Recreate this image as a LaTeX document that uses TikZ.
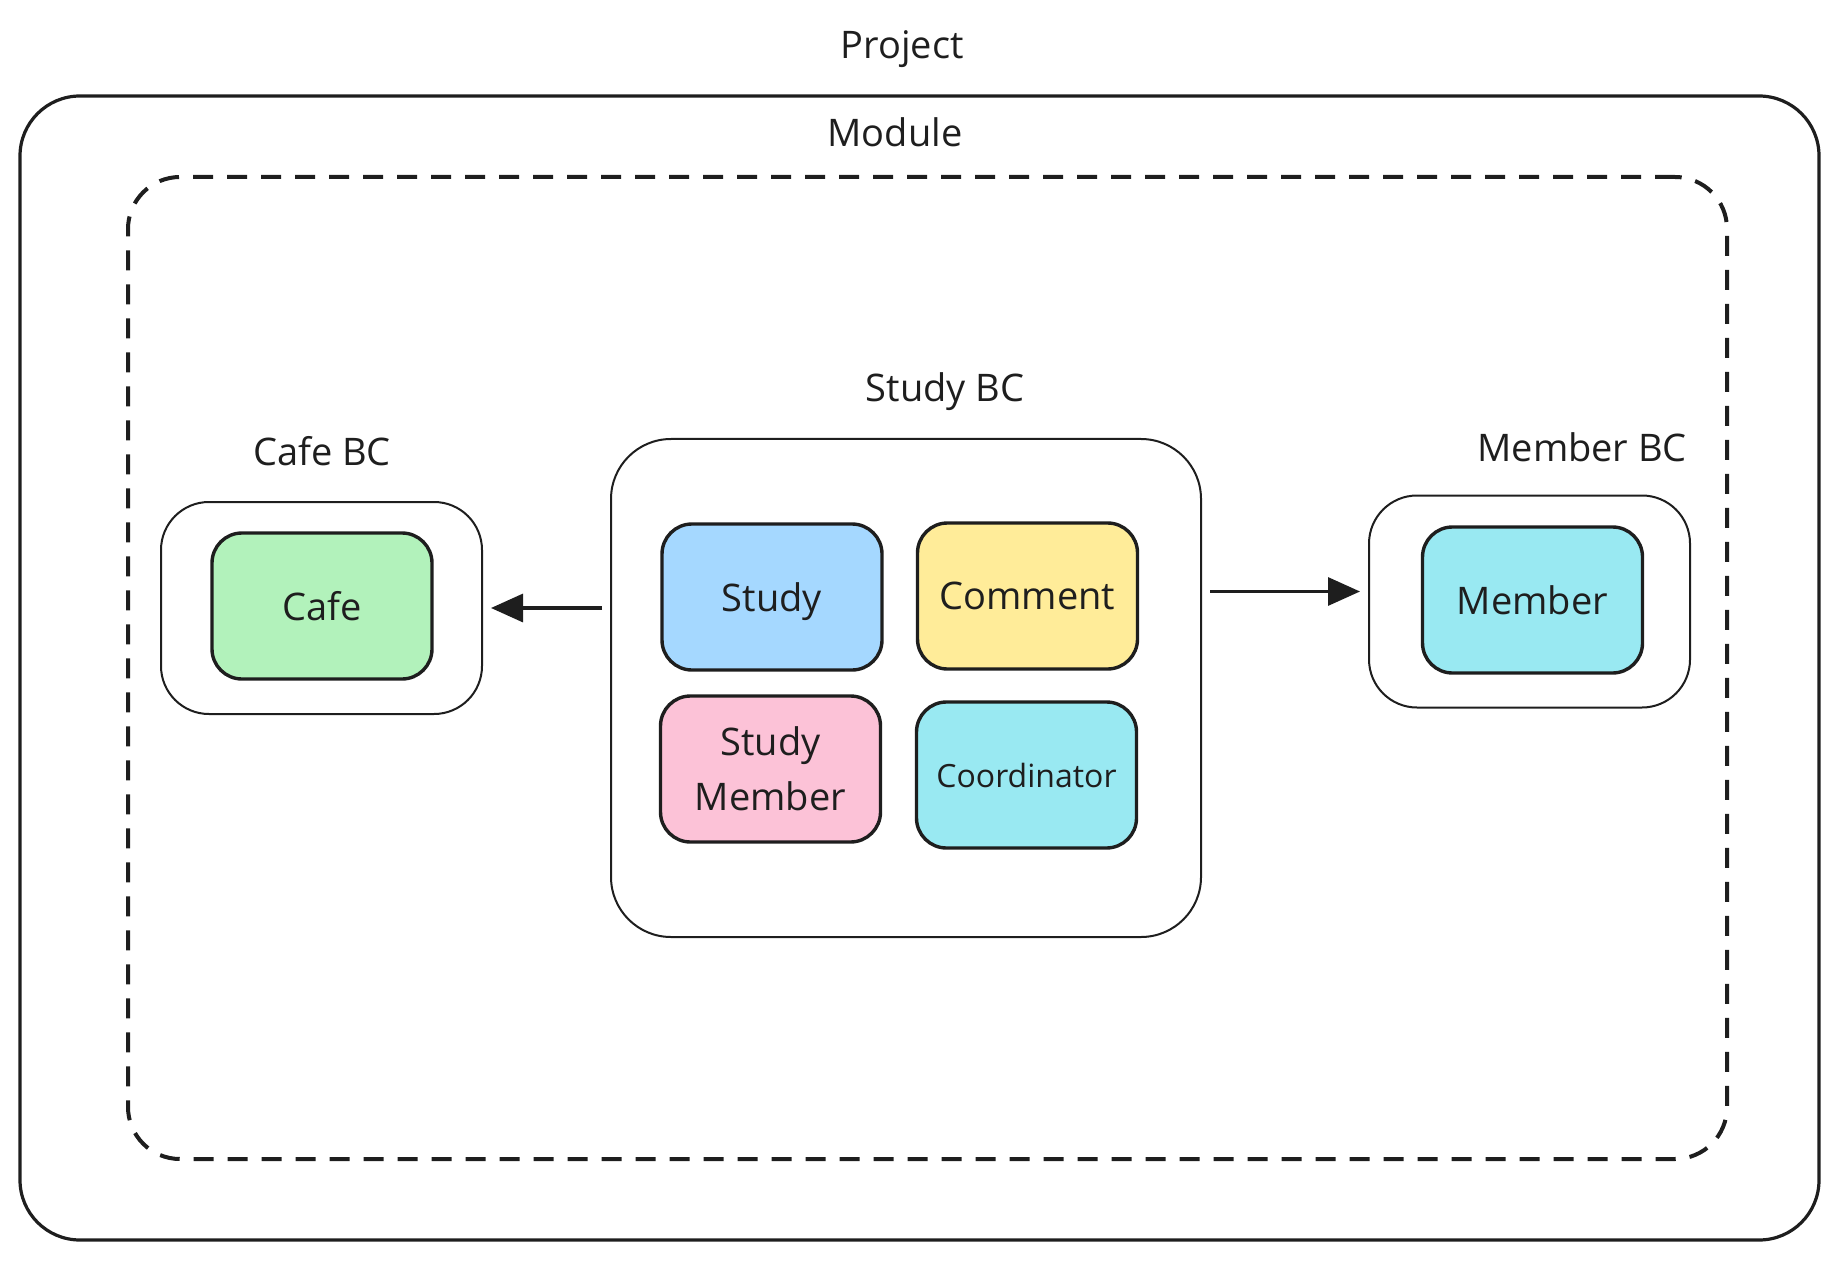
\documentclass[tikz,border=0pt]{standalone}
\usepackage{fontspec}
\setmainfont{Open Sans}
\usetikzlibrary{arrows.meta}

\definecolor{inkgray}{HTML}{1E1E1E}
\definecolor{studyblue}{HTML}{A5D8FF}
\definecolor{commentyellow}{HTML}{FFEC99}
\definecolor{memberpink}{HTML}{FCC2D7}
\definecolor{aquacyan}{HTML}{99E9F2}
\definecolor{cafegreen}{HTML}{B2F2BB}

\begin{document}
\begin{tikzpicture}[x = 0.5pt, y = -0.5pt,
    every node/.style = {text = inkgray, font = \fontsize{19}{27.5}\selectfont},
    bcbox/.style = {draw = inkgray, line width = 1pt, rounded corners = 24pt, minimum width = 160.5pt, minimum height = 106pt},
    entity/.style = {draw = inkgray, line width = 1.7pt, rounded corners = 15pt, minimum width = 110pt, minimum height = 73pt, align = center},
    flow/.style = {-{Triangle[length = 16pt, width = 14pt]}, draw = inkgray, line width = 1.6pt, shorten < = 4pt, shorten > = 4pt}]
    \useasboundingbox (0, 0) rectangle (1839, 1261);

    % project and module frames
    \node [draw = inkgray, line width = 1.6pt, rounded corners = 30pt, minimum width = 899.5pt, minimum height = 572pt] (project) at (919.5, 668) {};
    \node [draw = inkgray, line width = 2pt, dash pattern = on 10pt off 7pt, rounded corners = 26pt, minimum width = 799.5pt, minimum height = 491pt] (module) at (927.5, 668) {};
    \node [anchor = base] (projectlabel) at (902, 59) {Project};
    \node [anchor = base] (modulelabel) at (895, 147) {Module};

    % cafe context
    \node [bcbox] (cafebc) at (321.5, 608) {};
    \node [anchor = base] (cafebclabel) at (322, 466) {Cafe BC};
    \node [entity, fill = cafegreen] (cafe) at (322, 606) {Cafe};

    % study context
    \node [bcbox, rounded corners = 30pt, minimum width = 295pt, minimum height = 249pt] (studybc) at (906, 688) {};
    \node [anchor = base] (studybclabel) at (945, 401) {Study BC};
    \node [entity, fill = studyblue, text depth = 0pt] (study) at (772, 597) {Study};
    \node [entity, fill = commentyellow] (comment) at (1027.5, 596) {Comment};
    \node [entity, fill = memberpink] (studymember) at (770.5, 769) {Study\\Member};
    \node [entity, fill = aquacyan, font = \fontsize{16}{20}\selectfont] (coordinator) at (1026.5, 775) {Coordinator};

    % member context
    \node [bcbox] (memberbc) at (1529.5, 601.5) {};
    \node [anchor = base east] (memberbclabel) at (1694, 461) {Member BC};
    \node [entity, fill = aquacyan] (member) at (1532.5, 600) {Member};

    \draw [flow] (studybc.west |- cafebc.east) -- (cafebc.east);
    \draw [flow] ([yshift = 5pt] studybc.east |- memberbc.west) -- ([yshift = 5pt] memberbc.west);
\end{tikzpicture}
\end{document}
